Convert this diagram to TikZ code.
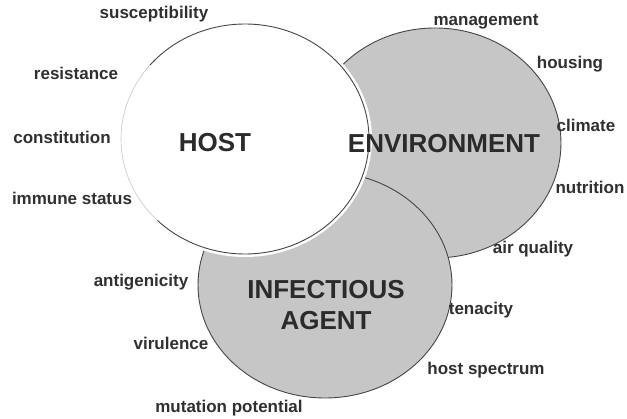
\documentclass[tikz,border=0pt]{standalone}
\usepackage{fontspec}
\setmainfont{Liberation Sans}
\definecolor{discgray}{RGB}{198,198,198}
\definecolor{ink}{RGB}{48,48,48}
\definecolor{rim}{RGB}{70,70,70}
\begin{document}
\begin{tikzpicture}[x=1pt,y=1pt,
  lbl/.style={font=\bfseries\fontsize{17}{20}\selectfont, text=ink, inner sep=0pt, text height=12pt, text depth=3.5pt},
  big/.style={font=\bfseries\fontsize{26}{31}\selectfont, text=ink!90!black, inner sep=0pt, align=center},
  circ/.style={draw=rim, line width=0.9pt}]
\useasboundingbox (0,0) rectangle (627,419);
\fill[white] (0,0) rectangle (627,419);
% environment
\fill[discgray] (435,276) ellipse[x radius=126pt, y radius=115pt];
\draw[circ] (435,276) ellipse[x radius=126pt, y radius=115pt];
% infectious agent
\fill[discgray] (325,134) ellipse[x radius=127pt, y radius=113pt];
\draw[circ] (325,134) ellipse[x radius=127pt, y radius=113pt];
% host
\fill[white] (245,280) ellipse[x radius=127pt, y radius=118pt];
\draw[circ] (245,280) ++(140:124pt and 115pt) arc[start angle=140, end angle=-135, x radius=124pt, y radius=115pt];
\draw[draw=rim!30, line width=0.6pt] (245,280) ++(140:124pt and 115pt) arc[start angle=140, end angle=225, x radius=124pt, y radius=115pt];
% big labels
\node[big] (host) at (215,276) {HOST};
\node[big] (env) at (444,275) {ENVIRONMENT};
\node[big] (agent) at (326,114) {INFECTIOUS\\AGENT};
% host factors
\node[lbl] (susc) at (154,405) {susceptibility};
\node[lbl] (resi) at (76,344) {resistance};
\node[lbl] (cons) at (62,280) {constitution};
\node[lbl] (immu) at (72,219) {immune status};
% environment factors
\node[lbl] (mana) at (486,398) {management};
\node[lbl] (hous) at (570,355) {housing};
\node[lbl] (clim) at (586,292) {climate};
\node[lbl] (nutr) at (590,230) {nutrition};
\node[lbl] (airq) at (533,170) {air quality};
% agent factors
\node[lbl] (anti) at (141,137) {antigenicity};
\node[lbl] (viru) at (171,74) {virulence};
\node[lbl] (muta) at (229,11) {mutation potential};
\node[lbl] (tena) at (481,109) {tenacity};
\node[lbl] (hosp) at (486,49) {host spectrum};
\end{tikzpicture}
\end{document}
